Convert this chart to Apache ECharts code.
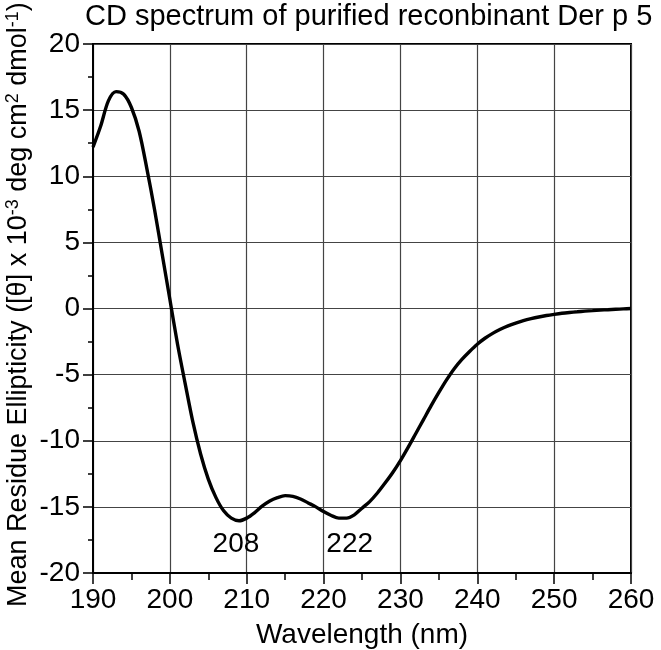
<!DOCTYPE html>
<html>
<head>
<meta charset="utf-8">
<script src="https://cdn.jsdelivr.net/npm/echarts@6/dist/echarts.min.js"></script>
<style>
  html, body { margin: 0; padding: 0; background: #fff; }
  #chart { width: 661px; height: 650px; }
</style>
</head>
<body>
<div id="chart"></div>
<script>
// CD spectrum, mean residue ellipticity (x10^-3) per wavelength (nm)
var wavelengths = [190, 191, 192, 193, 194, 195, 196, 197, 198, 199,
  200, 201, 202, 203, 204, 205, 206, 207, 208, 209,
  210, 211, 212, 213, 214, 215, 216, 217, 218, 219,
  220, 221, 222, 223, 224, 225, 226, 227, 228, 229,
  230, 231, 232, 233, 234, 235, 236, 237, 238, 239,
  240, 241, 242, 243, 244, 245, 246, 247, 248, 249,
  250, 251, 252, 253, 254, 255, 256, 257, 258, 259, 260];
var ellipticity = [12.2, 13.8, 15.7, 16.4, 16.2, 15.2, 13.4, 10.6, 7.5, 4.1,
  0.7, -2.7, -5.7, -8.6, -11.0, -12.9, -14.3, -15.3, -15.85, -16.05,
  -15.85, -15.45, -14.95, -14.55, -14.3, -14.15, -14.2, -14.4, -14.7, -15.0,
  -15.35, -15.65, -15.85, -15.85, -15.6, -15.1, -14.6, -13.95, -13.2, -12.4,
  -11.5, -10.5, -9.45, -8.4, -7.35, -6.35, -5.4, -4.55, -3.85, -3.25,
  -2.7, -2.25, -1.88, -1.57, -1.31, -1.1, -0.92, -0.77, -0.64, -0.53,
  -0.44, -0.36, -0.3, -0.25, -0.2, -0.16, -0.12, -0.09, -0.06, -0.03, 0.0];

// minima annotations
var peakLabels = ['208', '222'];
var peakLabelX = [208.6, 223.4];
var peakLabelY = [-17.8, -17.8];

var font = 'Liberation Sans, Arial, sans-serif';

var curve = wavelengths.map(function (w, i) { return [w, ellipticity[i]]; });
var peaks = peakLabels.map(function (t, i) {
  return { name: t, value: [peakLabelX[i], peakLabelY[i]] };
});

var chart = echarts.init(document.getElementById('chart'), null, { renderer: 'canvas' });
chart.setOption({
  animation: false,
  backgroundColor: '#fff',
  title: {
    text: 'CD spectrum of purified reconbinant Der p 5',
    left: 85,
    top: 2,
    padding: 0,
    textStyle: { fontFamily: font, fontSize: 29, fontWeight: 'normal', color: '#000' }
  },
  grid: {
    left: 93, right: 30, top: 44, bottom: 77,
    outerBoundsMode: 'none',
    show: true, borderColor: '#000', borderWidth: 2, backgroundColor: 'transparent'
  },
  xAxis: {
    type: 'value',
    min: 190, max: 260, interval: 10,
    name: 'Wavelength (nm)',
    nameLocation: 'middle',
    nameGap: 48,
    nameTextStyle: { fontFamily: font, fontSize: 28, color: '#000' },
    axisLine: { onZero: false, lineStyle: { color: '#000', width: 2 } },
    axisTick: { inside: false, length: 11, lineStyle: { color: '#000', width: 1.5 } },
    minorTick: { show: true, splitNumber: 2, length: 7, lineStyle: { color: '#000', width: 1.5 } },
    axisLabel: { margin: 13, fontFamily: font, fontSize: 28, color: '#000' },
    splitLine: { show: true, lineStyle: { color: '#444', width: 1.2 } }
  },
  yAxis: {
    type: 'value',
    min: -20, max: 20, interval: 5,
    axisLine: { onZero: false, lineStyle: { color: '#000', width: 2 } },
    axisTick: { inside: false, length: 10, lineStyle: { color: '#000', width: 1.5 } },
    minorTick: { show: true, splitNumber: 2, length: 5, lineStyle: { color: '#000', width: 1.5 } },
    axisLabel: { margin: 13, fontFamily: font, fontSize: 28, color: '#000' },
    splitLine: { show: true, lineStyle: { color: '#444', width: 1.2 } }
  },
  graphic: [{
    type: 'text',
    x: 34,
    y: 607,
    rotation: Math.PI / 2,
    style: {
      text: 'Mean Residue Ellipticity ([θ] x 10{sup|-3} deg cm{sup|2} dmol{sup|-1})',
      fontFamily: font,
      fontSize: 27,
      fill: '#000',
      align: 'left',
      verticalAlign: 'bottom',
      rich: {
        sup: { fontFamily: font, fontSize: 18, fill: '#000', verticalAlign: 'top', padding: [0, 0, 12, 0] }
      }
    }
  }],
  series: [{
    type: 'line',
    data: curve,
    smooth: 0.3,
    symbol: 'none',
    lineStyle: { color: '#000', width: 3.4 },
    z: 5
  }, {
    type: 'scatter',
    data: peaks,
    symbolSize: 0,
    itemStyle: { opacity: 1, color: '#000' },
    label: {
      show: true,
      position: 'inside',
      formatter: '{b}',
      fontFamily: font,
      fontSize: 28,
      color: '#000',
      textBorderWidth: 0
    },
    z: 6
  }]
});
</script>
</body>
</html>
